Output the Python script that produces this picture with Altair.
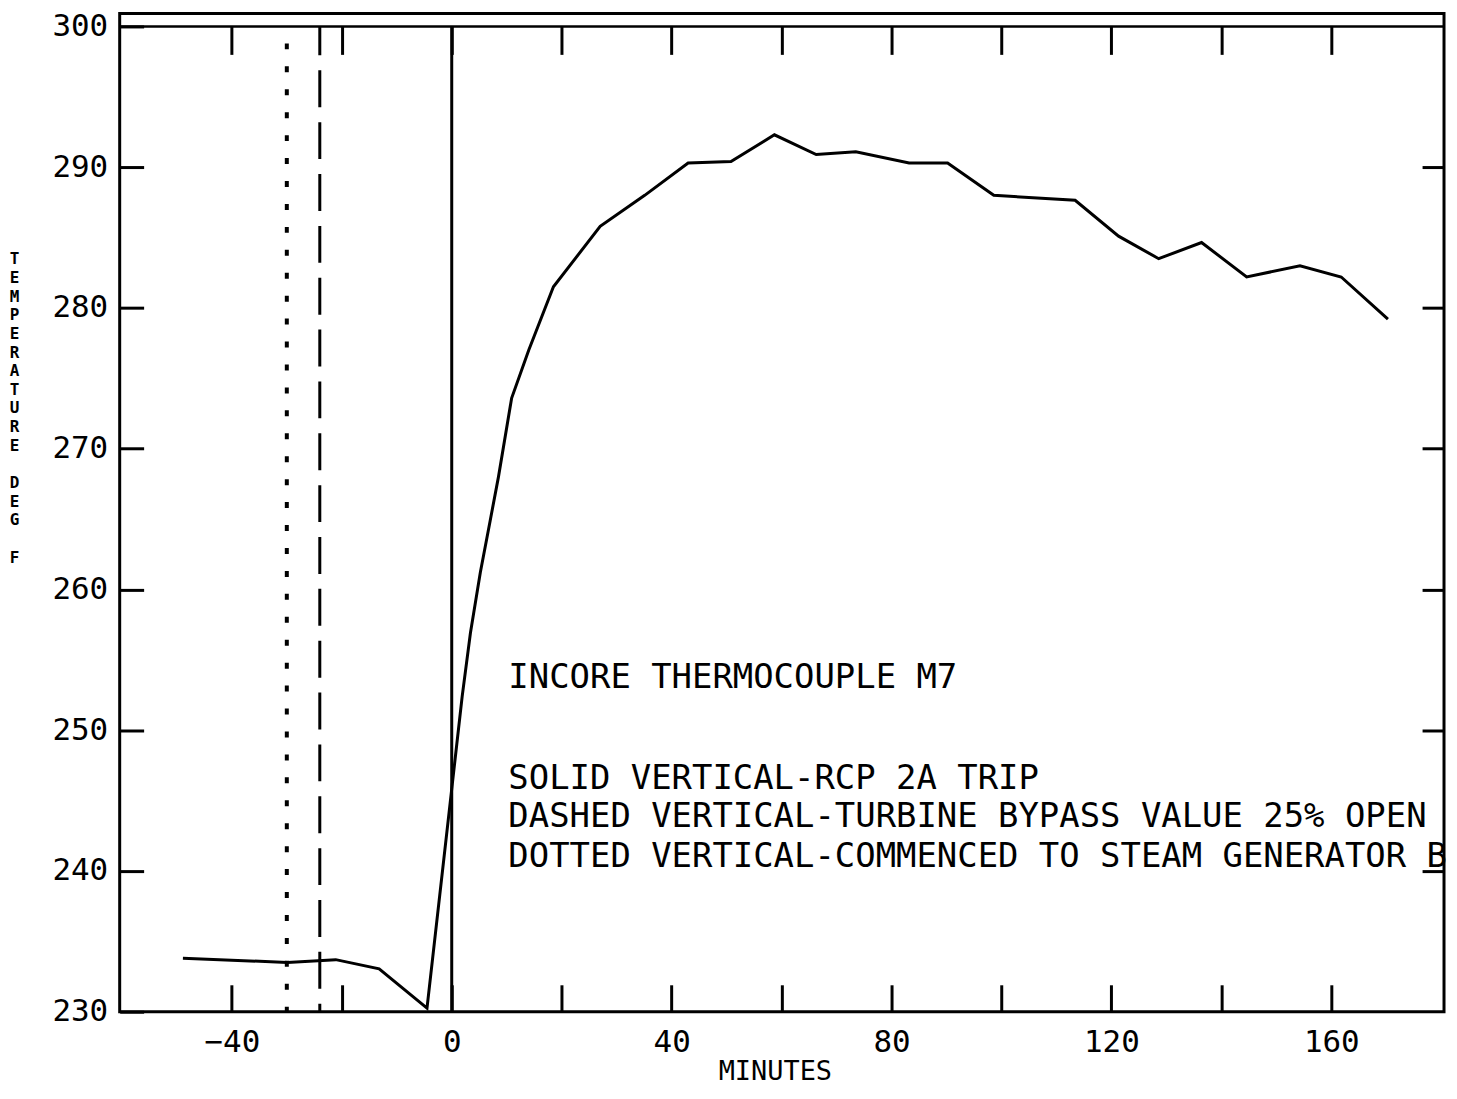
import altair as alt
import pandas as pd

# ---- data ----
minutes = [-48.9, -29.9, -21.1, -13.2, -4.5, 1.9, 3.4, 5.2, 7.0, 8.5, 10.9, 14.0,
           18.5, 27.0, 35.1, 43.0, 50.8, 58.7, 66.3, 73.5, 83.2, 90.2, 98.6,
           113.4, 121.3, 128.6, 136.4, 144.6, 154.3, 161.8, 170.3]
temps = [233.8, 233.5, 233.7, 233.05, 230.25, 252.4, 256.9, 261.2, 264.9, 268.0,
         273.6, 277.0, 281.5, 285.8, 288.0, 290.3, 290.4, 292.3, 290.9, 291.1,
         290.3, 290.3, 288.0, 287.65, 285.1, 283.5, 284.65, 282.2, 283.0, 282.2, 279.2]

event_minutes = [0, -24, -30]
event_kinds = ["solid", "dashed", "dotted"]

note_lines = [
    "INCORE THERMOCOUPLE M7",
    "SOLID VERTICAL-RCP 2A TRIP",
    "DASHED VERTICAL-TURBINE BYPASS VALUE 25% OPEN",
    "DOTTED VERTICAL-COMMENCED TO STEAM GENERATOR B",
]
note_minutes = [10.3, 10.3, 10.3, 10.3]
note_temps = [253.7, 246.5, 243.8, 241.0]

x_ticks = [-40, -20, 0, 20, 40, 60, 80, 100, 120, 140, 160]
y_ticks = [230, 240, 250, 260, 270, 280, 290, 300]
BLANK = "\u2800"  # blank glyph that keeps an empty line in the stacked title
y_title = list("TEMPERATURE") + [BLANK] + list("DEG") + [BLANK] + ["F"]
x_title = "MINUTES"

# ---- layout / styling ----
FONT = "DejaVu Sans Mono"
W, H = 1328, 1001
xs = alt.Scale(domain=[-60.4, 180.5], nice=False, zero=False)
ys = alt.Scale(domain=[230, 300.92], nice=False, zero=False)

curve = pd.DataFrame({"minute": minutes, "temp": temps})
events = pd.DataFrame({"minute": event_minutes, "kind": event_kinds})
notes = pd.DataFrame({"minute": note_minutes, "temp": note_temps, "text": note_lines})
ref = pd.DataFrame({"temp": [300]})

bottom_axis = alt.Axis(
    orient="bottom", values=x_ticks, offset=-27, tickSize=27, tickWidth=3,
    tickColor="black", domain=False, grid=False,
    labelExpr="datum.value % 40 === 0 ? datum.label : ''",
    labelFont=FONT, labelFontSize=31, labelColor="black", labelPadding=16,
    labelFlush=False, labelOverlap=False,
    title=x_title, titleFont=FONT, titleFontSize=27, titleFontWeight="normal",
    titleColor="black", titleX=657, titleY=87, titleBaseline="middle",
    titleAlign="center",
)
left_axis = alt.Axis(
    orient="left", values=y_ticks, offset=-24, tickSize=24, tickWidth=3,
    tickColor="black", domain=False, grid=False,
    labelFont=FONT, labelFontSize=31, labelColor="black", labelPadding=12,
    labelFlush=False, labelOverlap=False,
    title=y_title, titleAngle=0, titleFont=FONT, titleFontSize=16,
    titleFontWeight="bold", titleColor="black", titleLineHeight=18.7,
    titleX=-130, titleY=238, titleAlign="center", titleBaseline="top",
)
top_axis = alt.Axis(
    orient="top", values=x_ticks, offset=-41, tickSize=28, tickWidth=3,
    tickColor="black", domain=False, grid=False, labels=False, title=None,
)
right_axis = alt.Axis(
    orient="right", values=y_ticks[1:-1], offset=-22, tickSize=22, tickWidth=3,
    tickColor="black", domain=False, grid=False, labels=False, title=None,
)

line = alt.Chart(curve).mark_line(color="black", strokeWidth=3).encode(
    x=alt.X("minute:Q", scale=xs, axis=bottom_axis),
    y=alt.Y("temp:Q", scale=ys, axis=left_axis),
)

ghost = alt.Chart(curve).mark_point(opacity=0).encode(
    x=alt.X("minute:Q", scale=xs, axis=top_axis),
    y=alt.Y("temp:Q", scale=ys, axis=right_axis),
)

top_line = alt.Chart(ref).mark_rule(color="black", strokeWidth=2.5).encode(
    y=alt.Y("temp:Q", scale=ys, axis=None),
)


def event_rule(kind, **style):
    return alt.Chart(events).transform_filter(
        alt.datum.kind == kind
    ).mark_rule(color="black", **style).encode(
        x=alt.X("minute:Q", scale=xs, axis=None),
        y=alt.YDatum(300, scale=ys, axis=None),
        y2=alt.Y2Datum(230),
    )


solid = event_rule("solid", strokeWidth=3)
dashed = event_rule("dashed", strokeWidth=3, strokeDash=[37, 15], strokeDashOffset=8)
dotted = event_rule("dotted", strokeWidth=4, strokeDash=[6, 17], strokeDashOffset=6)

text = alt.Chart(notes).mark_text(
    align="left", baseline="middle", font=FONT, fontSize=34, color="black"
).encode(
    x=alt.X("minute:Q", scale=xs, axis=None),
    y=alt.Y("temp:Q", scale=ys, axis=None),
    text="text:N",
)

chart = alt.layer(
    top_line, solid, dashed, dotted, line, ghost, text
).resolve_axis(x="independent", y="independent").properties(
    width=W, height=H,
    autosize=alt.AutoSizeParams(type="none"),
    padding={"left": 112, "top": 4, "right": 5, "bottom": 76},
    background="white",
).configure_view(stroke="black", strokeWidth=3)

chart.save("out.html", embed_options={"renderer": "svg", "actions": False})
